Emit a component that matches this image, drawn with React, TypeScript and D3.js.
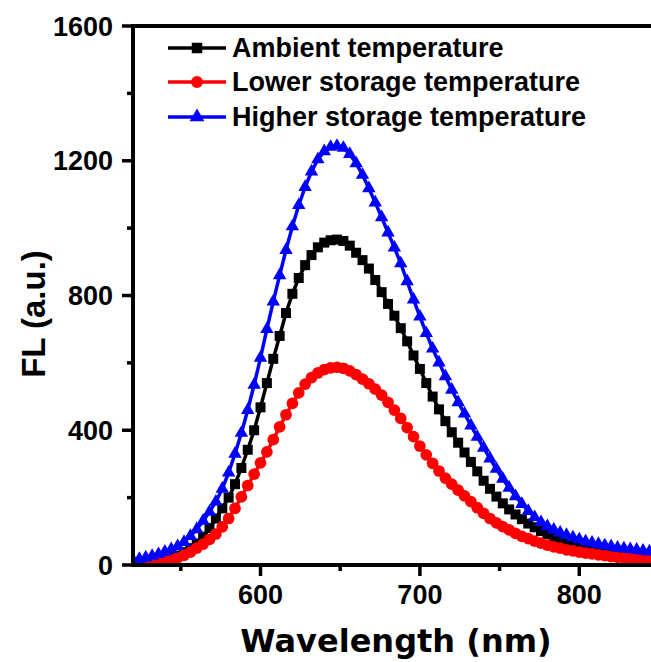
import React, { useEffect } from "react";
import * as d3 from "d3";

const wavelengths = [520,524,528,532,536,540,544,548,552,556,560,564,568,572,576,580,584,588,592,596,600,604,608,612,616,620,624,628,632,636,640,644,648,652,656,660,664,668,672,676,680,684,688,692,696,700,704,708,712,716,720,724,728,732,736,740,744,748,752,756,760,764,768,772,776,780,784,788,792,796,800,804,808,812,816,820,824,828,832,836,840,844];

const ambient = [5,7,9,12,15,19,23,28,38,50,64,84,110,138,168,200,240,288,342,400,468,540,612,680,748,805,852,890,920,943,957,964,966,962,948,927,905,880,846,810,775,740,703,664,622,582,540,500,462,427,394,363,334,306,278,250,226,203,183,165,150,136,123,112,101,92,83,75,68,61,55,50,46,42,39,35,31,28,26,25,22,20];

const lower = [2,3,4,6,8,11,15,21,29,38,50,62,76,92,113,138,168,202,236,270,303,336,372,410,446,480,511,537,556,570,580,585,587,584,576,565,552,538,522,504,483,460,435,408,381,353,327,302,279,258,240,222,205,188,170,153,138,125,114,104,94,85,78,71,65,59,54,50,45,42,38,35,33,30,28,25,23,21,20,18,16,15];

const higher = [15,18,22,27,32,39,47,56,68,86,106,131,158,188,226,274,330,392,460,535,615,700,782,860,935,1005,1068,1122,1168,1204,1228,1241,1244,1238,1220,1192,1158,1118,1076,1032,987,942,895,842,788,737,688,642,601,560,520,483,449,414,380,348,316,285,256,229,204,181,160,142,127,115,105,96,89,82,76,70,66,62,58,55,51,49,47,45,42,40];

const seriesNames = ["Ambient temperature", "Lower storage temperature", "Higher storage temperature"];
const seriesColors = ["#000000", "#ff0000", "#0000ff"];
const yTicks = [0, 400, 800, 1200, 1600];
const yMinor = [200, 600, 1000, 1400];
const xTicks = [600, 700, 800];
const xMinor = [550, 650, 750];

const W = 651, H = 662;
const left = 133, right = 651, top = 26, bottom = 565;

export default function App() {
  useEffect(() => { document.body.style.margin = "0"; }, []);
  const x = d3.scaleLinear().domain([520, 845]).range([left, right]);
  const y = d3.scaleLinear().domain([0, 1600]).range([bottom, top]);
  const allSeries = [ambient, lower, higher];
  const symbols = [d3.symbolSquare, d3.symbolCircle, d3.symbolTriangle];
  const plotSizes = [100, 108, 78];
  const legendSizes = [110, 110, 95];
  const line = d3.line<number>().x((_, i) => x(wavelengths[i])).y((d) => y(d));
  const tickFont = "'Liberation Sans', Arial, sans-serif";

  return (
    <svg width={W} height={H} style={{ position: "absolute", left: 0, top: 0, background: "#fff" }}>
      <defs>
        <clipPath id="plotclip">
          <rect x={left} y={top} width={right - left} height={bottom - top + 2} />
        </clipPath>
      </defs>
      <g clipPath="url(#plotclip)">
        {allSeries.map((s, k) => (
          <g key={k}>
            <path d={line(s) || ""} fill="none" stroke={seriesColors[k]} strokeWidth={3.5} />
            {s.map((v, i) => (
              <path key={i} transform={`translate(${x(wavelengths[i])},${y(v)})`}
                d={d3.symbol().type(symbols[k]).size(plotSizes[k])() || ""} fill={seriesColors[k]} />
            ))}
          </g>
        ))}
      </g>
      {/* axes */}
      <line x1={left} x2={right} y1={bottom} y2={bottom} stroke="#000" strokeWidth={4} />
      <line x1={left - 2} x2={right} y1={top} y2={top} stroke="#000" strokeWidth={4} />
      <line x1={left} x2={left} y1={top - 2} y2={bottom + 2} stroke="#000" strokeWidth={4} />
      {yTicks.map((t) => (
        <g key={t}>
          <line x1={left - 11} x2={left} y1={y(t)} y2={y(t)} stroke="#000" strokeWidth={3.5} />
          <text x={113} y={y(t) + 9.5} textAnchor="end" fontFamily={tickFont} fontWeight="bold" fontSize={27}>{t}</text>
        </g>
      ))}
      {yMinor.map((t) => (
        <line key={t} x1={left - 6} x2={left} y1={y(t)} y2={y(t)} stroke="#000" strokeWidth={3.5} />
      ))}
      {xTicks.map((t) => (
        <g key={t}>
          <line x1={x(t)} x2={x(t)} y1={bottom} y2={bottom + 11} stroke="#000" strokeWidth={3.5} />
          <text x={x(t)} y={604} textAnchor="middle" fontFamily={tickFont} fontWeight="bold" fontSize={27}>{t}</text>
        </g>
      ))}
      {xMinor.map((t) => (
        <line key={t} x1={x(t)} x2={x(t)} y1={bottom} y2={bottom + 6} stroke="#000" strokeWidth={3.5} />
      ))}
      <text x={396} y={652} textAnchor="middle" fontFamily="'DejaVu Sans', sans-serif" fontWeight="bold" fontSize={32}>Wavelength (nm)</text>
      <text transform="translate(45,314) rotate(-90)" textAnchor="middle" fontFamily={tickFont} fontWeight="bold" fontSize={33}>FL (a.u.)</text>
      {/* legend */}
      {seriesNames.map((n, k) => {
        const ly = [48, 82, 117][k];
        return (
          <g key={n}>
            <line x1={168} x2={226} y1={ly} y2={ly} stroke={seriesColors[k]} strokeWidth={3.5} />
            <path transform={`translate(197,${ly})`} d={d3.symbol().type(symbols[k]).size(legendSizes[k])() || ""} fill={seriesColors[k]} />
            <text x={232} y={ly + 8.5} fontFamily={tickFont} fontWeight="bold" fontSize={27}>{n}</text>
          </g>
        );
      })}
    </svg>
  );
}
